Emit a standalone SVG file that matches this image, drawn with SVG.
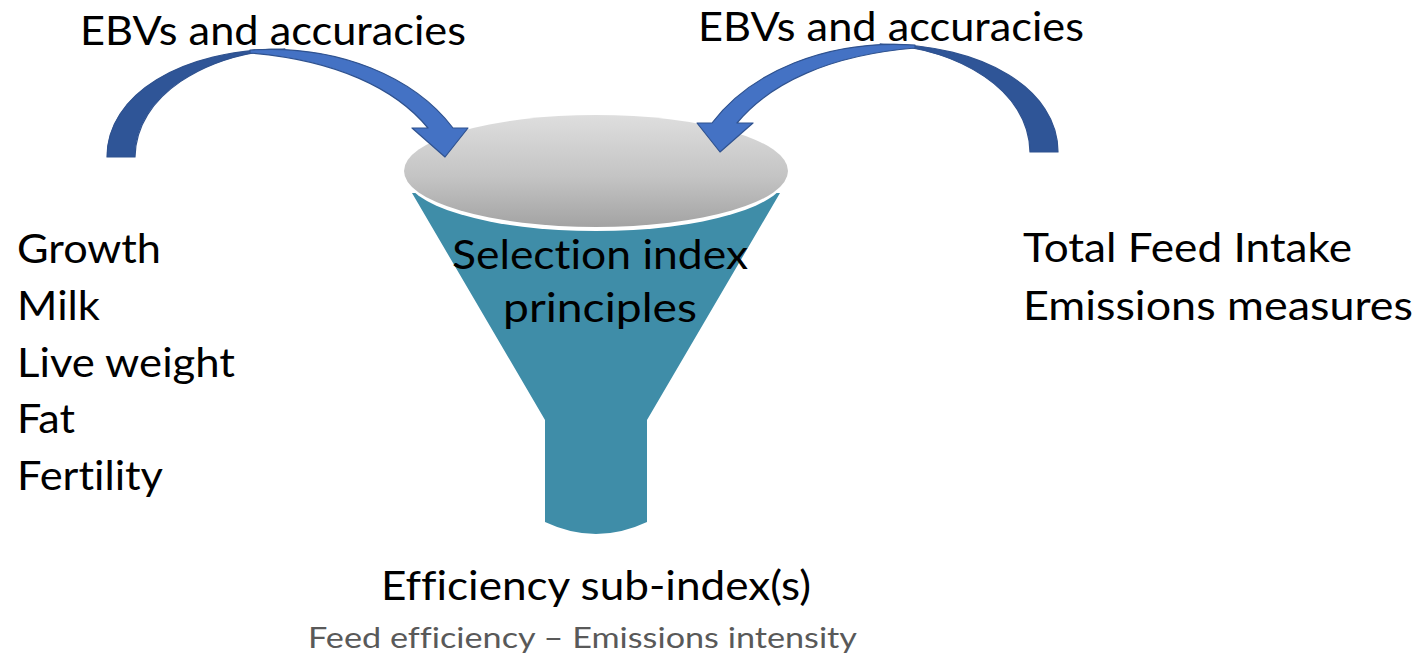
<svg xmlns="http://www.w3.org/2000/svg" width="1419" height="655" viewBox="0 0 1419 655">
  <defs>
    <linearGradient id="bowl" x1="0" y1="0" x2="0" y2="1">
      <stop offset="0" stop-color="#dedede"/>
      <stop offset="0.55" stop-color="#c4c4c4"/>
      <stop offset="1" stop-color="#a3a3a3"/>
    </linearGradient>
    <!-- one curved arrow; reused mirrored on the right -->
    <g id="curved-arrow">
      <path class="arc-back" d="M107,157 C107,95 180,49 285,49 C205,54 136,95 135,157 Z"/>
      <path class="arc-front" d="M250,50 C340,44 415,78 453,128 L468,128 L445,157 L412,128 L428,128 C395,88 335,60 250,53 Z"/>
    </g>
  </defs>
  <style>
    text { font-family: Lato, "Open Sans", "Liberation Sans", sans-serif; fill: #000; font-variant-ligatures: none; font-feature-settings: "liga" 0, "clig" 0; }
    .big { font-size: 40px; }
    .sub { font-size: 29px; fill: #595959; }
    .arc-back { fill: #2f5597; stroke: #2f528f; stroke-width: 1.2; stroke-linejoin: round; }
    .arc-front { fill: #4472c4; stroke: #2f528f; stroke-width: 1.2; stroke-linejoin: round; }
    .funnel { fill: #3f8da8; }
  </style>

  <rect width="1419" height="655" fill="#fff"/>

  <!-- funnel -->
  <g id="funnel">
    <path class="funnel" d="M412,193 L780,193 L647,420 L647,522 Q596,546 545,522 L545,420 Z"/>
    <ellipse cx="596" cy="174" rx="192" ry="57" fill="#ffffff"/>
    <ellipse cx="596" cy="171" rx="192" ry="56" fill="url(#bowl)"/>
    <text class="big" x="600" y="269" text-anchor="middle" textLength="296" lengthAdjust="spacingAndGlyphs">Selection index</text>
    <text class="big" x="600" y="322" text-anchor="middle" textLength="194" lengthAdjust="spacingAndGlyphs">principles</text>
  </g>

  <!-- connectors -->
  <g id="connectors">
    <use href="#curved-arrow"/>
    <use href="#curved-arrow" transform="translate(1165,-5) scale(-1,1)"/>
  </g>

  <g id="label-left-top">
    <text class="big" x="80" y="45" textLength="386" lengthAdjust="spacingAndGlyphs">EBVs and accuracies</text>
  </g>
  <g id="label-right-top">
    <text class="big" x="698" y="41" textLength="386" lengthAdjust="spacingAndGlyphs">EBVs and accuracies</text>
  </g>

  <g id="traits-left">
    <text class="big" x="17" y="263" textLength="144" lengthAdjust="spacingAndGlyphs">Growth</text>
    <text class="big" x="17" y="320" textLength="83" lengthAdjust="spacingAndGlyphs">Milk</text>
    <text class="big" x="17" y="377" textLength="218" lengthAdjust="spacingAndGlyphs">Live weight</text>
    <text class="big" x="17" y="433" textLength="58" lengthAdjust="spacingAndGlyphs">Fat</text>
    <text class="big" x="17" y="490" textLength="146" lengthAdjust="spacingAndGlyphs">Fertility</text>
  </g>

  <g id="traits-right">
    <text class="big" x="1023" y="262" textLength="329" lengthAdjust="spacingAndGlyphs">Total Feed Intake</text>
    <text class="big" x="1023" y="320" textLength="390" lengthAdjust="spacingAndGlyphs">Emissions measures</text>
  </g>

  <g id="output">
    <text class="big" x="381" y="600" textLength="430" lengthAdjust="spacingAndGlyphs">Efficiency sub-index(s)</text>
    <text class="sub" x="308" y="648" textLength="549" lengthAdjust="spacingAndGlyphs">Feed efficiency – Emissions intensity</text>
  </g>
</svg>
